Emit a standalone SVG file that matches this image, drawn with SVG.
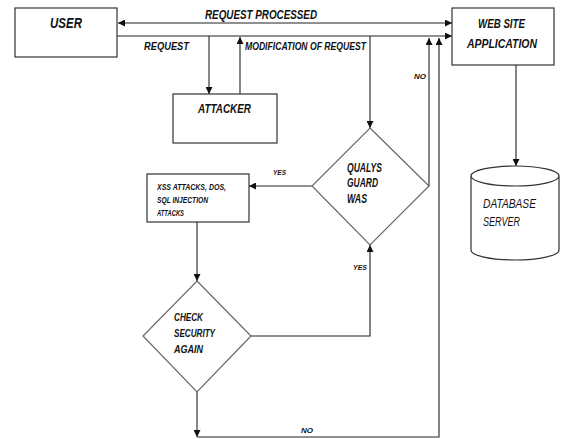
<svg xmlns="http://www.w3.org/2000/svg" width="562" height="439" viewBox="0 0 562 439">
<style>
.box{fill:#fff;stroke:#333;stroke-width:1.2}
.dia{fill:#fff;stroke:#666;stroke-width:1.2}
.ln{fill:none;stroke:#222;stroke-width:1.1}
.t{font-family:"Liberation Sans",Arial,sans-serif;font-weight:bold;font-style:italic;fill:#111}
.tn{font-family:"Liberation Sans",Arial,sans-serif;font-style:italic;fill:#111}
</style>
<defs>
<marker id="ah" viewBox="0 0 10 10" refX="10" refY="5" markerWidth="7" markerHeight="7" markerUnits="userSpaceOnUse" orient="auto-start-reverse">
<path d="M0,0 L10,5 L0,10 z" fill="#111"/>
</marker>
</defs>
<rect width="562" height="439" fill="#fff"/>
<g id="connectors">
<line class="ln" x1="118" y1="23" x2="452" y2="23" marker-start="url(#ah)" marker-end="url(#ah)"/>
<line class="ln" x1="117" y1="36" x2="452" y2="36" marker-end="url(#ah)"/>
<line class="ln" x1="209" y1="36" x2="209" y2="94" marker-end="url(#ah)"/>
<line class="ln" x1="240" y1="94" x2="240" y2="37" marker-end="url(#ah)"/>
<line class="ln" x1="370" y1="36" x2="370" y2="128" marker-end="url(#ah)"/>
<line class="ln" x1="312" y1="186" x2="249" y2="186" marker-end="url(#ah)"/>
<line class="ln" x1="197" y1="222" x2="197" y2="281" marker-end="url(#ah)"/>
<polyline class="ln" points="251,336 370,336 370,245" marker-end="url(#ah)"/>
<polyline class="ln" points="429,186 429,38" marker-end="url(#ah)"/>
<line class="ln" x1="197" y1="392" x2="197" y2="437" marker-end="url(#ah)"/>
<polyline class="ln" points="197,437 439,437 439,38" marker-end="url(#ah)"/>
<line class="ln" x1="516" y1="65" x2="516" y2="166" marker-end="url(#ah)"/>
<text class="t" x="205" y="19" font-size="12" textLength="112" lengthAdjust="spacingAndGlyphs">REQUEST  PROCESSED</text>
<text class="t" x="144" y="50" font-size="11" textLength="45" lengthAdjust="spacingAndGlyphs">REQUEST</text>
<text class="t" x="245" y="50" font-size="10.5" textLength="121" lengthAdjust="spacingAndGlyphs">MODIFICATION OF REQUEST</text>
<text class="t" x="414" y="79" font-size="8" textLength="12" lengthAdjust="spacingAndGlyphs">NO</text>
<text class="t" x="273" y="175" font-size="8" textLength="13" lengthAdjust="spacingAndGlyphs">YES</text>
<text class="t" x="353" y="270" font-size="8" textLength="14" lengthAdjust="spacingAndGlyphs">YES</text>
<text class="t" x="301" y="433" font-size="8" textLength="12" lengthAdjust="spacingAndGlyphs">NO</text>
</g>
<g id="user">
<rect class="box" x="15" y="8" width="102" height="49"/>
<text class="t" x="50" y="28" font-size="14" textLength="32" lengthAdjust="spacingAndGlyphs">USER</text>
</g>
<g id="website">
<rect class="box" x="452" y="8" width="102" height="57"/>
<text class="t" x="478" y="28" font-size="13" textLength="47" lengthAdjust="spacingAndGlyphs">WEB SITE</text>
<text class="t" x="467" y="48" font-size="13" textLength="70" lengthAdjust="spacingAndGlyphs">APPLICATION</text>
</g>
<g id="attacker">
<rect class="box" x="173" y="94" width="104" height="49"/>
<text class="t" x="198" y="113" font-size="13" textLength="53" lengthAdjust="spacingAndGlyphs">ATTACKER</text>
</g>
<g id="qualys">
<polygon class="dia" points="370,128 429,186 370,245 312,186"/>
<text class="t" x="347" y="172" font-size="12" textLength="35" lengthAdjust="spacingAndGlyphs">QUALYS</text>
<text class="t" x="347" y="187" font-size="12" textLength="31" lengthAdjust="spacingAndGlyphs">GUARD</text>
<text class="t" x="347" y="203" font-size="12" textLength="20" lengthAdjust="spacingAndGlyphs">WAS</text>
</g>
<g id="attacks">
<rect class="box" x="147" y="174" width="102" height="48"/>
<text class="t" x="157" y="190" font-size="8.5" textLength="69" lengthAdjust="spacingAndGlyphs">XSS ATTACKS,  DOS,</text>
<text class="t" x="157" y="203" font-size="8.5" textLength="51" lengthAdjust="spacingAndGlyphs">SQL INJECTION</text>
<text class="t" x="157" y="216" font-size="8.5" textLength="27" lengthAdjust="spacingAndGlyphs">ATTACKS</text>
</g>
<g id="check">
<polygon class="dia" points="197,281 251,336 197,392 143,336"/>
<text class="t" x="174" y="321" font-size="11" textLength="29" lengthAdjust="spacingAndGlyphs">CHECK</text>
<text class="t" x="174" y="337" font-size="11" textLength="41" lengthAdjust="spacingAndGlyphs">SECURITY</text>
<text class="t" x="174" y="353" font-size="11" textLength="29" lengthAdjust="spacingAndGlyphs">AGAIN</text>
</g>
<g id="database">
<path class="box" d="M471,176 L471,250 A44,10 0 0 0 559,250 L559,176 A44,10 0 0 0 471,176 A44,10 0 0 0 559,176"/>
<text class="tn" x="483" y="208" font-size="12" textLength="53" lengthAdjust="spacingAndGlyphs">DATABASE</text>
<text class="tn" x="483" y="226" font-size="12" textLength="37" lengthAdjust="spacingAndGlyphs">SERVER</text>
</g>
</svg>
